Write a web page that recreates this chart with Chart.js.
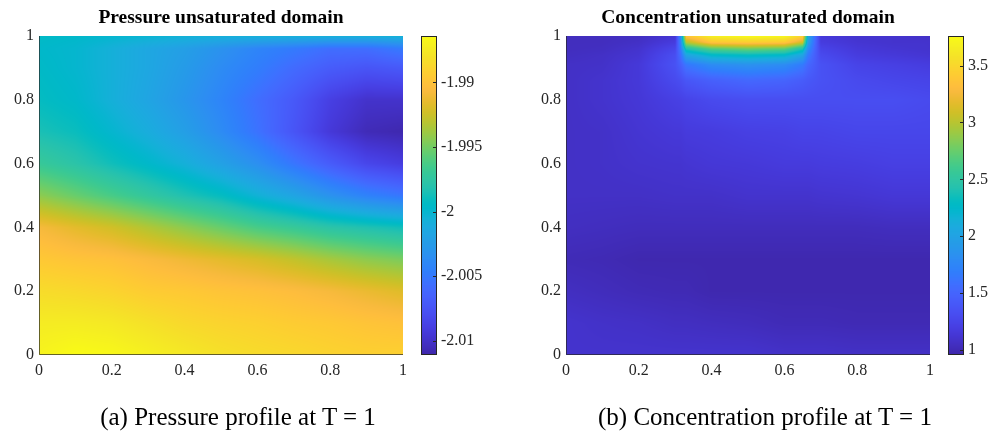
<!DOCTYPE html>
<html>
<head>
<meta charset="utf-8">
<script src="https://cdn.jsdelivr.net/npm/chart.js@4.4.1/dist/chart.umd.min.js"></script>
<style>
  html, body { margin: 0; padding: 0; background: #fff; }
  #wrap { position: relative; width: 998px; height: 431px; overflow: hidden; }
  .panel { position: absolute; top: 0; width: 499px; height: 431px; }
  .caption {
    position: absolute; top: 404px; line-height: 25px;
    font-family: "Liberation Serif", "Times New Roman", serif; font-size: 25px;
    color: #000; white-space: nowrap; transform: translateX(-50%);
  }
</style>
</head>
<body>
<div id="wrap">
  <div class="panel" style="left:0"><canvas id="chartA" width="499" height="431"></canvas></div>
  <div class="panel" style="left:499px"><canvas id="chartB" width="499" height="431"></canvas></div>
  <div class="caption" style="left:238px">(a) Pressure profile at T = 1</div>
  <div class="caption" style="left:765px">(b) Concentration profile at T = 1</div>
</div>
<script>
// axis ticks (both plots)
const axisTicks = [0, 0.2, 0.4, 0.6, 0.8, 1];

// pressure field (rows go bottom -> top)
const pressureX = [0, 0.1, 0.2, 0.3, 0.4, 0.5, 0.6, 0.7, 0.8, 0.9, 1];
const pressureY = [0, 0.1, 0.2, 0.3, 0.4, 0.5, 0.6, 0.7, 0.8, 0.9, 0.96, 1];
const pressureValues = [
  [-1.9869, -1.9864, -1.9866, -1.9871, -1.9876, -1.9881, -1.9884, -1.9886, -1.9889, -1.9891, -1.9891],
  [-1.9874, -1.9874, -1.9876, -1.9881, -1.9886, -1.9889, -1.9891, -1.9894, -1.9896, -1.9899, -1.9901],
  [-1.9884, -1.9886, -1.9889, -1.9894, -1.9896, -1.9899, -1.9901, -1.9904, -1.9908, -1.9913, -1.9918],
  [-1.9896, -1.9899, -1.9901, -1.9906, -1.9911, -1.9916, -1.9921, -1.9928, -1.9936, -1.9943, -1.9948],
  [-1.9908, -1.9916, -1.9923, -1.9933, -1.9943, -1.9953, -1.9963, -1.9970, -1.9978, -1.9983, -1.9988],
  [-1.9943, -1.9953, -1.9963, -1.9973, -1.9983, -1.9992, -2.0005, -2.0017, -2.0032, -2.0044, -2.0052],
  [-1.9970, -1.9978, -1.9988, -1.9997, -2.0007, -2.0020, -2.0034, -2.0052, -2.0069, -2.0084, -2.0091],
  [-1.9985, -1.9990, -2.0000, -2.0010, -2.0022, -2.0037, -2.0054, -2.0074, -2.0094, -2.0106, -2.0109],
  [-1.9992, -1.9997, -2.0007, -2.0017, -2.0029, -2.0042, -2.0057, -2.0071, -2.0089, -2.0099, -2.0099],
  [-1.9995, -2.0000, -2.0007, -2.0015, -2.0025, -2.0037, -2.0047, -2.0059, -2.0069, -2.0074, -2.0071],
  [-1.9997, -2.0000, -2.0007, -2.0015, -2.0022, -2.0032, -2.0042, -2.0049, -2.0057, -2.0057, -2.0049],
  [-1.9995, -1.9997, -2.0000, -2.0002, -2.0005, -2.0007, -2.0007, -2.0007, -2.0007, -2.0007, -2.0005]
];
const pressureRange = [-2.0111, -1.9864];
const pressureTicks = [-2.01, -2.005, -2, -1.995, -1.99];
const pressureTickLabels = ["-2.01", "-2.005", "-2", "-1.995", "-1.99"];

// concentration field, finer near the inflow at the top
const concX = [0, 0.1, 0.2, 0.3, 0.315, 0.33, 0.4, 0.5, 0.6, 0.65, 0.665, 0.7, 0.8, 0.9, 1];
const concY = [0, 0.1, 0.2, 0.3, 0.4, 0.5, 0.6, 0.7, 0.8, 0.86, 0.91, 0.94, 0.96, 0.98, 1];
const concValues = [
  [1.10, 1.10, 1.10, 1.10, 1.10, 1.10, 1.10, 1.10, 1.08, 1.08, 1.08, 1.08, 1.07, 1.07, 1.07],
  [1.10, 1.08, 1.07, 1.05, 1.05, 1.05, 1.04, 1.03, 1.01, 1.01, 1.01, 1.01, 1.00, 1.00, 1.00],
  [1.05, 1.03, 1.01, 1.00, 1.00, 1.00, 0.98, 0.98, 0.98, 0.98, 0.98, 0.98, 0.98, 0.98, 0.98],
  [1.01, 1.00, 0.98, 0.98, 0.98, 0.98, 0.98, 0.98, 0.98, 0.98, 0.98, 0.98, 0.98, 0.98, 0.98],
  [1.05, 1.04, 1.03, 1.03, 1.03, 1.03, 1.03, 1.03, 1.03, 1.03, 1.03, 1.03, 1.03, 1.04, 1.04],
  [1.07, 1.07, 1.07, 1.08, 1.08, 1.08, 1.08, 1.10, 1.10, 1.10, 1.10, 1.11, 1.12, 1.14, 1.14],
  [1.07, 1.08, 1.10, 1.11, 1.11, 1.12, 1.14, 1.15, 1.17, 1.17, 1.17, 1.18, 1.19, 1.21, 1.21],
  [1.07, 1.08, 1.12, 1.15, 1.15, 1.17, 1.18, 1.21, 1.22, 1.24, 1.24, 1.24, 1.26, 1.26, 1.26],
  [1.07, 1.10, 1.14, 1.21, 1.22, 1.24, 1.29, 1.32, 1.32, 1.32, 1.32, 1.32, 1.32, 1.32, 1.29],
  [1.07, 1.10, 1.15, 1.29, 1.32, 1.38, 1.46, 1.52, 1.49, 1.43, 1.40, 1.35, 1.29, 1.26, 1.24],
  [1.07, 1.08, 1.15, 1.35, 1.46, 1.63, 1.80, 1.85, 1.80, 1.66, 1.52, 1.35, 1.24, 1.21, 1.18],
  [1.05, 1.07, 1.12, 1.32, 1.57, 2.02, 2.25, 2.30, 2.25, 2.02, 1.66, 1.29, 1.18, 1.15, 1.12],
  [1.04, 1.05, 1.10, 1.26, 1.66, 2.41, 2.69, 2.78, 2.72, 2.41, 1.80, 1.24, 1.15, 1.12, 1.10],
  [1.04, 1.04, 1.07, 1.18, 1.74, 2.98, 3.37, 3.42, 3.40, 3.09, 1.97, 1.18, 1.12, 1.10, 1.10],
  [1.04, 1.04, 1.05, 1.12, 1.80, 3.37, 3.68, 3.76, 3.73, 3.48, 2.08, 1.15, 1.10, 1.10, 1.07]
];
const concRange = [0.956, 3.76];
const concTicks = [1, 1.5, 2, 2.5, 3, 3.5];
const concTickLabels = ["1", "1.5", "2", "2.5", "3", "3.5"];

// parula colormap (64 entries)
const parulaMap = [
  [0.2422,0.1504,0.6603],[0.2504,0.1650,0.7076],[0.2578,0.1818,0.7511],[0.2647,0.1978,0.7952],
  [0.2706,0.2147,0.8364],[0.2751,0.2342,0.8710],[0.2783,0.2559,0.8991],[0.2803,0.2782,0.9221],
  [0.2813,0.3006,0.9414],[0.2810,0.3228,0.9579],[0.2795,0.3447,0.9717],[0.2760,0.3667,0.9829],
  [0.2699,0.3892,0.9906],[0.2602,0.4123,0.9952],[0.2440,0.4358,0.9988],[0.2206,0.4603,0.9973],
  [0.1963,0.4847,0.9892],[0.1834,0.5074,0.9798],[0.1786,0.5289,0.9682],[0.1764,0.5499,0.9520],
  [0.1687,0.5703,0.9359],[0.1540,0.5902,0.9218],[0.1460,0.6091,0.9079],[0.1380,0.6276,0.8973],
  [0.1248,0.6459,0.8883],[0.1113,0.6635,0.8763],[0.0952,0.6798,0.8598],[0.0689,0.6948,0.8394],
  [0.0297,0.7082,0.8163],[0.0036,0.7203,0.7917],[0.0067,0.7312,0.7660],[0.0433,0.7411,0.7394],
  [0.0964,0.7500,0.7120],[0.1408,0.7584,0.6842],[0.1717,0.7670,0.6554],[0.1938,0.7758,0.6251],
  [0.2161,0.7843,0.5923],[0.2470,0.7918,0.5567],[0.2906,0.7973,0.5188],[0.3406,0.8008,0.4789],
  [0.3909,0.8029,0.4354],[0.4456,0.8024,0.3909],[0.5044,0.7993,0.3480],[0.5616,0.7942,0.3045],
  [0.6174,0.7876,0.2612],[0.6720,0.7793,0.2227],[0.7242,0.7698,0.1910],[0.7738,0.7598,0.1646],
  [0.8203,0.7498,0.1535],[0.8634,0.7406,0.1596],[0.9035,0.7330,0.1774],[0.9393,0.7288,0.2100],
  [0.9728,0.7298,0.2394],[0.9956,0.7434,0.2371],[0.9970,0.7659,0.2199],[0.9952,0.7893,0.2028],
  [0.9892,0.8136,0.1885],[0.9786,0.8386,0.1766],[0.9676,0.8639,0.1643],[0.9610,0.8890,0.1537],
  [0.9597,0.9135,0.1423],[0.9628,0.9373,0.1265],[0.9691,0.9606,0.1064],[0.9769,0.9839,0.0805]
];

function parula(t) {
  t = Math.min(1, Math.max(0, t)) * (parulaMap.length - 1);
  const i = Math.min(parulaMap.length - 2, Math.floor(t));
  const f = t - i;
  const a = parulaMap[i], b = parulaMap[i + 1];
  return [0, 1, 2].map(k => Math.round(255 * (a[k] + (b[k] - a[k]) * f)));
}

function findCell(arr, v) {
  let i = 0;
  while (i < arr.length - 2 && v > arr[i + 1]) i++;
  return i;
}

// shade between the read node values
function sampleGrid(xs, ys, grid, xv, yv) {
  const i = findCell(xs, xv), j = findCell(ys, yv);
  const u = Math.min(1, Math.max(0, (xv - xs[i]) / (xs[i + 1] - xs[i])));
  const w = Math.min(1, Math.max(0, (yv - ys[j]) / (ys[j + 1] - ys[j])));
  return grid[j][i] * (1 - u) * (1 - w) + grid[j][i + 1] * u * (1 - w) +
         grid[j + 1][i] * (1 - u) * w + grid[j + 1][i + 1] * u * w;
}

const serif = '"Liberation Serif", "Times New Roman", serif';
const axisColor = '#262626';

const heatmapPlugin = {
  id: 'heatmap',
  beforeDatasetsDraw(chart, args, opts) {
    const { ctx, chartArea: a, scales } = chart;
    const xS = scales.x, yS = scales.y, cS = scales.cb;
    const left = Math.round(a.left), top = Math.round(a.top);
    const w = Math.round(a.right) - left, h = Math.round(a.bottom) - top;

    // field
    const img = ctx.createImageData(w, h);
    const xv = [];
    for (let px = 0; px < w; px++) xv.push(xS.getValueForPixel(left + px + 0.5));
    for (let py = 0; py < h; py++) {
      const yv = yS.getValueForPixel(top + py + 0.5);
      for (let px = 0; px < w; px++) {
        const v = sampleGrid(opts.xs, opts.ys, opts.values, xv[px], yv);
        const c = parula((v - cS.min) / (cS.max - cS.min));
        const k = (py * w + px) * 4;
        img.data[k] = c[0]; img.data[k + 1] = c[1]; img.data[k + 2] = c[2]; img.data[k + 3] = 255;
      }
    }
    ctx.putImageData(img, left, top);

    // axis lines (left + bottom)
    ctx.save();
    ctx.strokeStyle = 'rgba(38,38,38,0.7)';
    ctx.lineWidth = 1;
    ctx.beginPath();
    ctx.moveTo(left + 0.5, top);
    ctx.lineTo(left + 0.5, top + h - 0.5);
    ctx.lineTo(left + w, top + h - 0.5);
    ctx.stroke();

    // colorbar
    const x0 = left + w + opts.cbGap;
    for (let py = top; py < top + h; py++) {
      const c = parula((cS.getValueForPixel(py + 0.5) - cS.min) / (cS.max - cS.min));
      ctx.fillStyle = `rgb(${c[0]},${c[1]},${c[2]})`;
      ctx.fillRect(x0, py, opts.cbWidth, 1);
    }
    ctx.strokeStyle = axisColor;
    ctx.strokeRect(x0 + 0.5, top + 0.5, opts.cbWidth - 1, h - 1);
    ctx.beginPath();
    cS.ticks.forEach(t => {
      const y = Math.round(cS.getPixelForValue(t.value)) + 0.5;
      ctx.moveTo(x0 + opts.cbWidth - 4, y);
      ctx.lineTo(x0 + opts.cbWidth - 1, y);
    });
    ctx.stroke();

    // title over the plot
    ctx.fillStyle = '#000';
    ctx.font = 'bold 19.5px ' + serif;
    ctx.textAlign = 'center';
    ctx.textBaseline = 'alphabetic';
    ctx.fillText(opts.title, left + w / 2, 23);
    ctx.restore();
  }
};

function makePanel(id, cfg) {
  const tickFont = { family: serif, size: 16 };
  return new Chart(document.getElementById(id), {
    type: 'scatter',
    data: { datasets: [{ data: [], xAxisID: 'x', yAxisID: 'y', pointRadius: 0 }] },
    options: {
      responsive: false,
      animation: false,
      layout: { autoPadding: false, padding: { top: 36, left: 0, right: 0, bottom: 0 } },
      plugins: {
        legend: { display: false },
        tooltip: { enabled: false },
        heatmap: {
          xs: cfg.xs, ys: cfg.ys, values: cfg.values, title: cfg.title,
          cbGap: 18, cbWidth: 16
        }
      },
      scales: {
        x: {
          type: 'linear', position: 'bottom', min: 0, max: 1,
          grid: { display: false, drawTicks: false },
          border: { display: false },
          afterBuildTicks: s => { s.ticks = axisTicks.map(v => ({ value: v })); },
          afterFit: s => { s.height = 76; },
          ticks: { font: tickFont, color: axisColor, padding: 6, maxRotation: 0, callback: v => String(v) }
        },
        y: {
          type: 'linear', position: 'left', min: 0, max: 1,
          grid: { display: false, drawTicks: false },
          border: { display: false },
          afterBuildTicks: s => { s.ticks = axisTicks.map(v => ({ value: v })); },
          afterFit: s => { s.width = cfg.plotLeft; },
          ticks: { font: tickFont, color: axisColor, padding: 5, callback: v => String(v) }
        },
        cb: {
          type: 'linear', position: 'right', min: cfg.range[0], max: cfg.range[1],
          // labels sit to the right of the drawn colorbar
          grid: { display: false, drawTicks: true, tickLength: 38 },
          border: { display: false },
          afterBuildTicks: s => { s.ticks = cfg.cbTicks.map(v => ({ value: v })); },
          afterFit: s => { s.width = 499 - cfg.plotRight; },
          ticks: { font: tickFont, color: axisColor, padding: 0, callback: (v, i) => cfg.cbLabels[i] }
        }
      }
    },
    plugins: [heatmapPlugin]
  });
}

makePanel('chartA', {
  xs: pressureX, ys: pressureY, values: pressureValues, range: pressureRange,
  cbTicks: pressureTicks, cbLabels: pressureTickLabels,
  title: 'Pressure unsaturated domain', plotLeft: 39, plotRight: 403
});
makePanel('chartB', {
  xs: concX, ys: concY, values: concValues, range: concRange,
  cbTicks: concTicks, cbLabels: concTickLabels,
  title: 'Concentration unsaturated domain', plotLeft: 67, plotRight: 431
});
</script>
</body>
</html>
